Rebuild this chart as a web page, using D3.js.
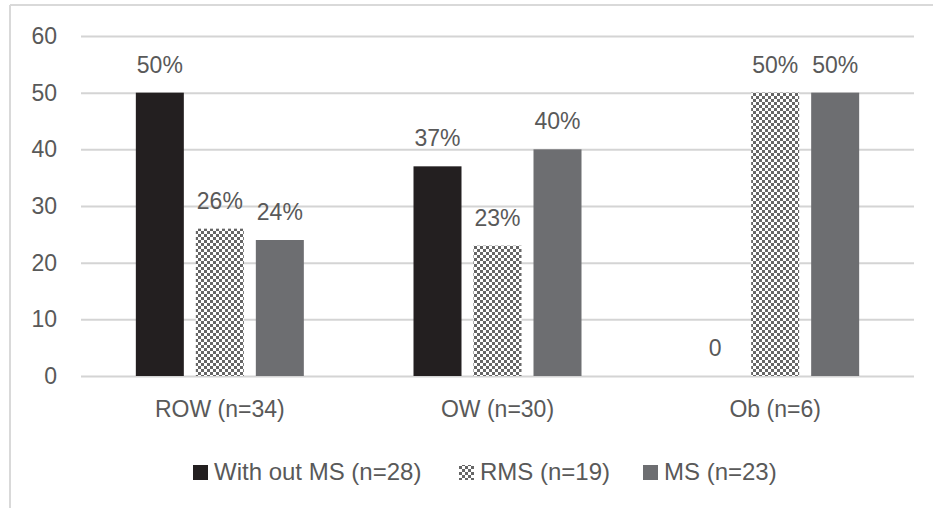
<!DOCTYPE html>
<html>
<head>
<meta charset="utf-8">
<script src="https://cdn.jsdelivr.net/npm/d3@7"></script>
<style>
  body { margin: 0; background: #fff; }
  text { font-family: "Liberation Sans", Arial, sans-serif; fill: #595959; }
</style>
</head>
<body>
<div id="chart"></div>
<script>
// data
const categories = ["ROW (n=34)", "OW (n=30)", "Ob (n=6)"];
const seriesNames = ["With out MS (n=28)", "RMS (n=19)", "MS (n=23)"];
const withoutMS = [50, 37, 0];
const rms = [26, 23, 50];
const ms = [24, 40, 50];
const yTicks = [0, 10, 20, 30, 40, 50, 60];

const seriesValues = [withoutMS, rms, ms];

const width = 933;
const height = 508;
const margin = { top: 36, right: 19, bottom: 132, left: 81 };
const fontSize = 23;

const svg = d3.select("#chart")
  .append("svg")
  .attr("width", width)
  .attr("height", height);

// checker pattern for RMS
const defs = svg.append("defs");
const pat = defs.append("pattern")
  .attr("id", "checker")
  .attr("patternUnits", "userSpaceOnUse")
  .attr("width", 6)
  .attr("height", 6);
pat.append("rect").attr("width", 6).attr("height", 6).attr("fill", "#fff");
pat.append("rect").attr("width", 3).attr("height", 3).attr("fill", "#666");
pat.append("rect").attr("x", 3).attr("y", 3).attr("width", 3).attr("height", 3).attr("fill", "#666");

const fills = ["#231f20", "url(#checker)", "#6d6e71"];

// chart frame (only top and left visible)
svg.append("line").attr("x1", 10).attr("x2", width).attr("y1", 5).attr("y2", 5)
  .attr("stroke", "#d9d9d9").attr("stroke-width", 2);
svg.append("line").attr("x1", 10).attr("x2", 10).attr("y1", 5).attr("y2", height)
  .attr("stroke", "#d9d9d9").attr("stroke-width", 2);

const x = d3.scaleBand()
  .domain(categories)
  .range([margin.left, width - margin.right]);

const xInner = d3.scaleBand()
  .domain(seriesNames)
  .range([(x.bandwidth() - 180) / 2, (x.bandwidth() + 180) / 2])
  .paddingInner(0.2)
  .paddingOuter(0.1);

const y = d3.scaleLinear()
  .domain([0, 60])
  .range([376, margin.top]);

// gridlines + y labels
const yAxis = d3.axisLeft(y)
  .tickValues(yTicks)
  .tickSize(-(width - margin.right - margin.left))
  .tickPadding(24);

const gy = svg.append("g")
  .attr("transform", "translate(" + margin.left + ",0)")
  .call(yAxis);
gy.select(".domain").remove();
gy.selectAll(".tick line").attr("stroke", "#d4d4d4").attr("stroke-width", 2);
gy.selectAll(".tick text").attr("font-size", fontSize).attr("fill", "#595959")
  .style("font-family", "Liberation Sans, Arial, sans-serif");

// x labels
const xAxis = d3.axisBottom(x).tickSize(0).tickPadding(25);
const gx = svg.append("g")
  .attr("transform", "translate(0," + y(0) + ")")
  .call(xAxis);
gx.select(".domain").remove();
gx.selectAll(".tick text").attr("font-size", fontSize).attr("fill", "#595959")
  .style("font-family", "Liberation Sans, Arial, sans-serif");

// bars
seriesNames.forEach(function(name, si) {
  const vals = seriesValues[si];
  const g = svg.append("g");
  g.selectAll("rect")
    .data(vals)
    .join("rect")
    .attr("x", (d, i) => x(categories[i]) + xInner(name))
    .attr("y", d => y(d))
    .attr("width", xInner.bandwidth())
    .attr("height", d => y(0) - y(d))
    .attr("fill", fills[si]);

  g.selectAll("text")
    .data(vals)
    .join("text")
    .attr("x", (d, i) => x(categories[i]) + xInner(name) + xInner.bandwidth() / 2)
    .attr("y", d => y(d) - 20)
    .attr("text-anchor", "middle")
    .attr("font-size", fontSize)
    .text(d => d === 0 ? "0" : d + "%");
});

// legend
const legendX = [193, 459, 643];
const legend = svg.append("g").attr("transform", "translate(0,472)");
seriesNames.forEach(function(name, i) {
  const item = legend.append("g").attr("transform", "translate(" + legendX[i] + ",0)");
  item.append("rect")
    .attr("x", 0).attr("y", -7)
    .attr("width", 15).attr("height", 15)
    .attr("fill", fills[i]);
  item.append("text")
    .attr("x", 21).attr("y", 0)
    .attr("dy", "0.35em")
    .attr("font-size", 24)
    .text(name);
});
</script>
</body>
</html>
